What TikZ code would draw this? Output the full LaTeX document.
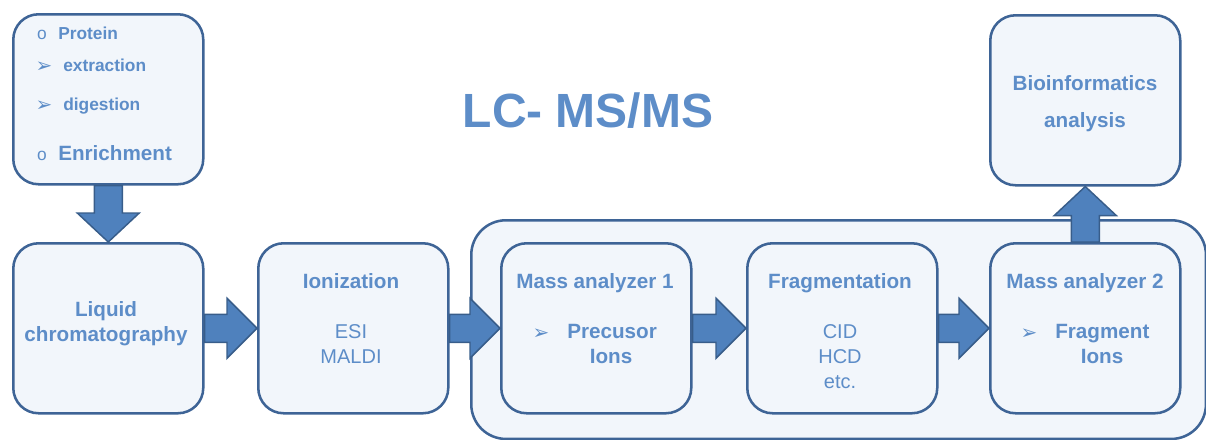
\documentclass[tikz,border=0pt]{standalone}
\usepackage{fontspec}
\setmainfont{Liberation Sans}
\newfontfamily\dejavu{DejaVu Sans}
\usetikzlibrary{calc}
\definecolor{txt}{RGB}{93,141,200}
\definecolor{boxfill}{RGB}{242,246,251}
\definecolor{boxline}{RGB}{62,100,150}
\definecolor{arrfill}{RGB}{79,129,189}
\definecolor{arrline}{RGB}{56,93,138}
\tikzset{
  stepbox/.style={draw=boxline, fill=boxfill, line width=1.9pt, rounded corners=19pt,
    minimum width=142.5pt, minimum height=127.5pt, inner sep=0pt, anchor=north west},
  container/.style={draw=boxline, fill=boxfill, line width=1.9pt, rounded corners=26pt,
    minimum width=551pt, minimum height=164pt, inner sep=0pt, anchor=north west},
  blockarr/.style={fill=arrfill, draw=arrline, line width=1.1pt, line join=miter},
  hd/.style={text=txt, font=\bfseries\fontsize{15.5}{18}\selectfont, anchor=base, inner sep=0pt},
  rg/.style={text=txt, font=\fontsize{15}{18}\selectfont, anchor=base, inner sep=0pt},
  sm/.style={text=txt, font=\bfseries\fontsize{13}{16}\selectfont, anchor=base west, inner sep=0pt},
  bul/.style={text=txt, font=\fontsize{13}{14}\selectfont, anchor=base, inner sep=0pt},
  arb/.style={text=txt, font=\dejavu\fontsize{15}{16}\selectfont, anchor=base, inner sep=0pt},
}
\begin{document}
\begin{tikzpicture}[x=0.75pt,y=-0.75pt]
\useasboundingbox (0,0) rectangle (1206,439);
% container
\node[container] (cont) at (470,219) {};
% boxes
\node[stepbox] (tl) at (12,13) {};
\node[stepbox] (lc) at (12,242) {};
\node[stepbox] (ion) at (257,242) {};
\node[stepbox] (ma1) at (500,242) {};
\node[stepbox] (frag) at (746,242) {};
\node[stepbox] (ma2) at (989,242) {};
\node[stepbox] (bio) at (989,14) {};
% title
\node[text=txt, font=\bfseries\fontsize{36}{40}\selectfont, anchor=base, inner sep=0pt] (title) at (588,127) {LC- MS/MS};
% top-left text
\node[bul] (b1) at (42,39) {o};
\node[sm] (t1) at (58,39) {Protein};
\node[arb] (b2) at (44,72) {➢};
\node[sm] (t2) at (63,71) {extraction};
\node[arb] (b3) at (44,111) {➢};
\node[sm] (t3) at (63,110) {digestion};
\node[bul] (b4) at (42,160) {o};
\node[sm, font=\bfseries\fontsize{15.5}{18}\selectfont] (t4) at (58,160) {Enrichment};
% liquid chromatography
\node[hd] (lc1) at (106,316) {Liquid};
\node[hd] (lc2) at (106,341) {chromatography};
% ionization
\node[hd] (ion1) at (351,288) {Ionization};
\node[rg] (ion2) at (351,338) {ESI};
\node[rg] (ion3) at (351,363) {MALDI};
% mass analyzer 1
\node[hd] (m11) at (595,288) {Mass analyzer 1};
\node[arb] (m1b) at (541,339) {➢};
\node[hd, anchor=base west] (m12) at (567,338) {Precusor};
\node[hd] (m13) at (611,363) {Ions};
% fragmentation
\node[hd] (f1) at (840,288) {Fragmentation};
\node[rg] (f2) at (840,338) {CID};
\node[rg] (f3) at (840,363) {HCD};
\node[rg] (f4) at (840,388) {etc.};
% mass analyzer 2
\node[hd] (m21) at (1085,288) {Mass analyzer 2};
\node[arb] (m2b) at (1029,339) {➢};
\node[hd, anchor=base west] (m22) at (1055,338) {Fragment};
\node[hd] (m23) at (1102,363) {Ions};
% bioinformatics
\node[hd] (bio1) at (1085,90) {Bioinformatics};
\node[hd] (bio2) at (1085,127) {analysis};
% block arrows
\filldraw[blockarr] ($(tl.south)+(-14,0)$) -- ($(lc.north)+(-14,-29)$) -- ($(lc.north)+(-31,-29)$) -- (lc.north)
  -- ($(lc.north)+(31,-29)$) -- ($(lc.north)+(14,-29)$) -- ($(tl.south)+(14,0)$) -- cycle;
\foreach \a/\b in {lc/ion, ion/ma1, ma1/frag, frag/ma2}{
  \filldraw[blockarr] ($(\a.east)+(0,-14)$) -- ($(\b.west)+(-30,-14)$) -- ($(\b.west)+(-30,-30)$) -- (\b.west)
    -- ($(\b.west)+(-30,30)$) -- ($(\b.west)+(-30,14)$) -- ($(\a.east)+(0,14)$) -- cycle;
}
\filldraw[blockarr] ($(ma2.north)+(-14,0)$) -- ($(bio.south)+(-14,29)$) -- ($(bio.south)+(-31,29)$) -- (bio.south)
  -- ($(bio.south)+(31,29)$) -- ($(bio.south)+(14,29)$) -- ($(ma2.north)+(14,0)$) -- cycle;
\end{tikzpicture}
\end{document}
